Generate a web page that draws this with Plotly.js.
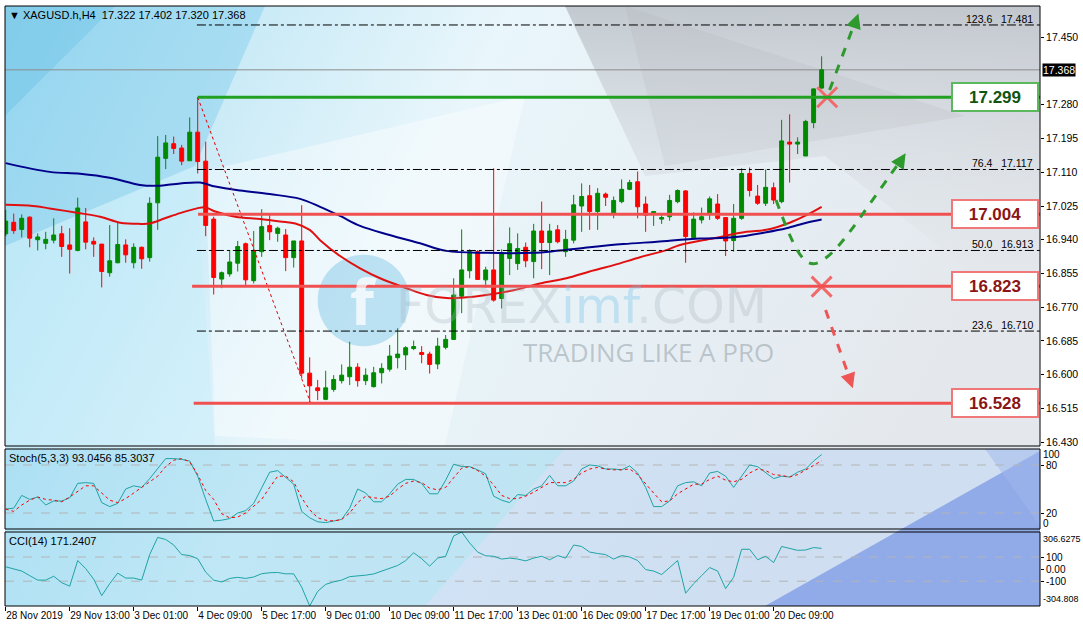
<!DOCTYPE html>
<html>
<head>
<meta charset="utf-8">
<script src="https://cdn.plot.ly/plotly-3.0.1.min.js"></script>
<style>
  html, body { margin: 0; padding: 0; background: #ffffff; }
  #chart { width: 1083px; height: 628px; }
</style>
</head>
<body>
<div id="chart"></div>
<script>
// ---------------- DATA ----------------
const symbolTitle = "\u25BC XAGUSD.h,H4  17.322 17.402 17.320 17.368";

const open = [16.955,16.984,16.966,16.997,16.940,16.931,16.939,16.955,16.927,16.913,
  16.985,16.936,16.929,16.857,16.882,16.927,16.882,16.921,16.895,17.033,
  17.145,17.182,17.171,17.139,17.211,17.138,16.992,16.841,16.854,16.881,
  16.930,16.837,16.910,16.976,16.956,16.952,16.895,16.937,16.604,16.567,
  16.538,16.563,16.585,16.595,16.619,16.585,16.570,16.605,16.614,16.643,
  16.650,16.666,16.656,16.652,16.627,16.669,16.689,16.798,16.862,16.910,
  16.839,16.864,16.792,16.893,16.880,16.921,16.885,16.962,16.933,16.965,
  16.910,16.939,17.025,17.051,17.011,17.055,17.005,17.036,17.067,17.086,
  17.030,17.007,16.992,16.998,17.036,17.063,16.945,16.990,17.005,17.030,
  16.996,16.938,16.994,17.107,17.050,17.032,17.071,17.036,17.186,17.181,
  17.151,17.235,17.322];
const high = [17.015,17.006,17.004,16.999,16.956,16.960,16.994,16.975,16.969,17.046,
  17.020,16.946,16.929,16.977,16.983,16.941,16.931,16.923,17.047,17.201,
  17.204,17.200,17.179,17.248,17.299,17.187,16.998,16.860,16.914,16.937,
  16.933,16.962,17.017,17.007,16.973,16.967,16.937,17.027,16.644,16.587,
  16.610,16.599,16.626,16.683,16.629,16.616,16.620,16.629,16.675,16.717,
  16.672,16.686,16.672,16.658,16.693,16.700,16.843,16.966,16.916,16.914,
  16.872,17.120,16.916,16.971,16.956,16.933,16.980,17.036,16.980,16.977,
  16.965,17.053,17.082,17.078,17.070,17.059,17.049,17.092,17.091,17.112,
  17.049,17.011,17.007,17.053,17.067,17.065,17.009,17.021,17.049,17.055,
  16.996,17.030,17.120,17.122,17.078,17.117,17.084,17.242,17.256,17.198,
  17.242,17.321,17.402];
const low = [16.949,16.955,16.946,16.921,16.913,16.916,16.931,16.897,16.855,16.911,
  16.916,16.897,16.820,16.847,16.881,16.882,16.868,16.867,16.885,16.965,
  17.118,17.156,17.128,17.139,17.107,16.949,16.802,16.818,16.847,16.860,
  16.826,16.830,16.897,16.939,16.935,16.861,16.870,16.591,16.528,16.536,
  16.536,16.557,16.578,16.574,16.570,16.574,16.568,16.578,16.608,16.616,
  16.612,16.662,16.629,16.603,16.614,16.664,16.688,16.755,16.843,16.839,
  16.820,16.784,16.767,16.851,16.864,16.871,16.843,16.866,16.851,16.931,
  16.897,16.931,16.960,16.965,16.965,17.025,16.994,17.032,17.065,16.994,
  16.960,16.975,16.980,16.988,17.032,16.882,16.945,16.981,16.990,16.990,
  16.899,16.910,16.990,17.049,17.028,17.025,17.030,17.032,17.084,17.156,
  17.151,17.221,17.320];
const close = [16.987,16.963,16.994,16.944,16.947,16.941,16.952,16.923,16.916,17.020,
  16.934,16.929,16.860,16.887,16.928,16.902,16.921,16.892,17.032,17.148,
  17.184,17.170,17.138,17.211,17.137,16.976,16.845,16.857,16.884,16.923,
  16.839,16.912,16.973,16.960,16.969,16.895,16.937,16.604,16.572,16.560,
  16.567,16.588,16.599,16.619,16.585,16.599,16.605,16.616,16.647,16.652,
  16.668,16.671,16.651,16.626,16.672,16.689,16.801,16.864,16.910,16.840,
  16.864,16.788,16.906,16.930,16.918,16.887,16.962,16.933,16.962,16.935,
  16.941,17.028,17.049,17.011,17.057,17.047,17.039,17.067,17.084,17.023,
  17.002,17.011,16.996,17.039,17.064,16.948,16.992,16.998,17.043,16.994,
  16.937,16.994,17.107,17.064,17.032,17.072,17.040,17.189,17.181,17.186,
  17.238,17.320,17.368];

// moving averages read at sample bars
const maBlueBars = [0,5.5,9.3,13,16.8,19,21.8,24.3,26.2,29.3,33,36.8,39.3,41.8,44.3,48,51.8,55.1,60.1,65.9,68.9,73,77.2,81.4,86.8,90.9,95.1,97.6,100.1,102];
const maBlueVals = [17.133,17.111,17.106,17.096,17.078,17.076,17.082,17.084,17.074,17.064,17.055,17.043,17.023,17.000,16.975,16.952,16.931,16.912,16.907,16.907,16.912,16.921,16.929,16.935,16.943,16.946,16.959,16.969,16.983,16.991];
const maRedBars = [0,3.4,5.5,8.9,11.8,14.3,16.8,18,19.9,21.8,23.9,24.9,26.2,28.7,31.8,34.3,36.2,38,39.3,41.8,44.3,46.8,50.1,52.6,55.1,57.6,60.1,63.5,66.8,70.1,73,76,79.3,82.6,84.3,88.5,92.6,95.1,98,100.1,102];
const maRedVals = [17.028,17.025,17.019,17.008,16.998,16.983,16.980,16.981,16.994,17.007,17.019,17.022,17.011,16.998,16.992,16.986,16.981,16.965,16.939,16.899,16.868,16.843,16.818,16.801,16.793,16.795,16.801,16.813,16.830,16.843,16.860,16.876,16.896,16.914,16.927,16.944,16.960,16.965,16.983,17.002,17.023];

// Stochastic (5,3,3)
const stochK = [25,26,42,37,40,30,35,35,39,57,58,57,33,28,32,50,54,52,63,76,
  88,88,87,85,66,37,10,11,13,20,23,32,51,71,73,64,56,22,14,9,
  8,10,12,26,50,45,34,34,44,56,62,62,57,44,44,61,81,78,78,74,
  69,41,36,33,43,42,50,54,67,54,54,60,75,80,79,75,75,74,79,70,
  52,28,28,35,54,58,59,54,70,72,66,52,66,80,78,70,63,66,65,71,
  75,85,93.0456];
const stochD = [25,22,30,36,40,37,36,34,40,47,54,54,45,36,33,38,45,52,58,66,
  78,86,88,84,68,48,37,19,14,15,20,28,37,52,66,66,59,39,24,14,
  11,10,12,20,33,41,39,38,41,50,57,60,58,51,49,52,64,76,78,73,
  66,55,42,38,38,41,46,52,58,58,58,62,70,75,77,75,74,74,75,68,
  56,45,34,35,44,50,56,56,62,66,61,59,62,70,75,73,68,67,65,68,
  74,79,85.3037];
// CCI(14)
const cci = [19,4,-16,-54,-91,-91,-59,-112,-141,71,4,-83,-219,-120,-33,-74,-74,-91,120,262,
  245,199,120,112,86,-25,-91,-106,-77,-68,-77,-65,-38,-30,-28,-39,-39,-149,-304.808,-184,
  -126,-105,-91,-62,-59,-50,-40,-15,4,30,70,135,86,25,91,106,274,306.6275,216,141,
  110,106,83,91,83,68,91,106,77,112,91,199,187,141,129,120,83,112,100,71,
  -4,-16,-45,13,71,-199,-120,-54,13,-16,-161,-68,164,164,77,106,54,187,172,155,
  158,178,171.2407];

// time axis labels (every 8 bars)
const timeTickBars = [0,8,16,24,32,40,48,56,64,72,80,88,96];
const timeTickText = ["28 Nov 2019","29 Nov 13:00","3 Dec 01:00","4 Dec 09:00","5 Dec 17:00","9 Dec 01:00","10 Dec 09:00","11 Dec 17:00","13 Dec 01:00","16 Dec 09:00","17 Dec 17:00","19 Dec 01:00","20 Dec 09:00"];

// price axis labels
const priceTicks = [16.430,16.515,16.600,16.685,16.770,16.855,16.940,17.025,17.110,17.195,17.280,17.450];
const currentPrice = 17.368;

// support / resistance levels
const levelPrices = [17.299, 17.004, 16.823, 16.528];
const levelStartBars = [24, 24.05, 23.3, 23.5];
const levelKinds = ["resistance","support","support","support"];

// Fibonacci levels
const fibPrices = [17.481, 17.117, 16.913, 16.710];
const fibNames = ["123.6", "76.4", "50.0", "23.6"];
const fibStartBar = 23.9;
const fibTrend = {bars: [24, 38.1], prices: [17.299, 16.53]};

// forecast drawings
const crossBars = [102.7, 102.0];
const crossPrices = [17.299, 16.822];

// ---------------- LAYOUT CONSTANTS ----------------
const W = 1083, H = 628;
const M = {l: 5, r: 43, t: 6, b: 22};
const plotH = H - M.t - M.b;
const xRange = [-0.09, 129.3];
const mainRange = [16.4205, 17.5288];
const domMain = [(606 - 446) / plotH, 1];
const domStoch = [(606 - 529) / plotH, (606 - 449) / plotH];
const domCci = [0, (606 - 532) / plotH];

const idx = close.map((_, i) => i);
const font = "Liberation Sans, Arial, sans-serif";

// ---------------- BACKGROUND ----------------
const bgSvg = `<svg xmlns="http://www.w3.org/2000/svg" width="1035" height="600" viewBox="0 0 1035 600" preserveAspectRatio="none">
<defs>
<linearGradient id="g" x1="0" y1="0" x2="1" y2="0.3">
<stop offset="0" stop-color="#a9dff3"/>
<stop offset="0.45" stop-color="#e9f6fb"/>
<stop offset="1" stop-color="#e4e8ed"/>
</linearGradient>
<linearGradient id="gr" x1="0" y1="0" x2="0" y2="1">
<stop offset="0" stop-color="#b9bec5"/>
<stop offset="1" stop-color="#e6eaee" stop-opacity="0"/>
</linearGradient>
</defs>
<rect width="1035" height="600" fill="url(#g)"/>
<polygon points="0,0 260,0 190,160 0,240" fill="#76c9ec" opacity="0.4"/>
<polygon points="0,0 110,0 0,110" fill="#5ab8e2" opacity="0.3"/>
<polygon points="200,165 520,90 440,440 210,430" fill="#ffffff" opacity="0.4"/>
<polygon points="0,240 190,160 210,440 0,440" fill="#c6eefa" opacity="0.45"/>
<polygon points="560,0 1035,0 1035,320 820,150 640,170" fill="url(#gr)" opacity="0.8"/>
<polygon points="620,0 960,110 660,160" fill="#a5aab1" opacity="0.15"/>
<polygon points="0,443 560,443 420,600 0,600" fill="#8dd4ef" opacity="0.45"/>
<polygon points="560,443 1035,443 1035,600 420,600" fill="#b9d3f3" opacity="0.5"/>
<polygon points="760,600 1035,445 1035,600" fill="#7c98e6" opacity="0.75"/>
<polygon points="980,443 1035,443 1035,520" fill="#9fb8ee" opacity="0.5"/>
</svg>`;
const bgUri = "data:image/svg+xml;charset=utf-8," + encodeURIComponent(bgSvg);

// ---------------- TRACES ----------------
const traces = [];
traces.push({
  type: "candlestick", x: idx, open: open, high: high, low: low, close: close,
  xaxis: "x", yaxis: "y",
  increasing: {line: {color: "#008a00", width: 1}, fillcolor: "#008a00"},
  decreasing: {line: {color: "#ff0000", width: 1}, fillcolor: "#ff0000"},
  whiskerwidth: 0, hoverinfo: "none", showlegend: false
});
traces.push({type: "scatter", mode: "lines", x: maRedBars, y: maRedVals, xaxis: "x", yaxis: "y",
  line: {color: "#e01010", width: 2, shape: "spline"}, hoverinfo: "skip", showlegend: false});
traces.push({type: "scatter", mode: "lines", x: maBlueBars, y: maBlueVals, xaxis: "x", yaxis: "y",
  line: {color: "#00008b", width: 2, shape: "spline"}, hoverinfo: "skip", showlegend: false});
traces.push({type: "scatter", mode: "lines", x: idx, y: stochK, xaxis: "x", yaxis: "y2",
  line: {color: "#1fa3a3", width: 1}, hoverinfo: "skip", showlegend: false});
traces.push({type: "scatter", mode: "lines", x: idx, y: stochD, xaxis: "x", yaxis: "y2",
  line: {color: "#ff0000", width: 1, dash: "dot"}, hoverinfo: "skip", showlegend: false});
traces.push({type: "scatter", mode: "lines", x: idx, y: cci, xaxis: "x", yaxis: "y3",
  line: {color: "#1fa3a3", width: 1}, hoverinfo: "skip", showlegend: false});
traces.push({type: "scatter", mode: "markers", x: crossBars, y: crossPrices, xaxis: "x", yaxis: "y",
  marker: {symbol: "x-thin", size: 20, line: {width: 3, color: "#f06a6a"}}, hoverinfo: "skip", showlegend: false});

// ---------------- SHAPES ----------------
const shapes = [];
// watermark logo circle
shapes.push({type: "circle", xref: "x", yref: "y", x0: 39, x1: 50.5, y0: 16.672, y1: 16.902,
  fillcolor: "rgba(120,196,230,0.45)", line: {width: 0}, layer: "below"});
// current price line
shapes.push({type: "line", xref: "x", yref: "y", x0: xRange[0], x1: xRange[1], y0: currentPrice, y1: currentPrice,
  line: {color: "#8c8c8c", width: 1}, layer: "below"});
// fibonacci lines
fibPrices.forEach(p => shapes.push({type: "line", xref: "x", yref: "y", x0: fibStartBar, x1: xRange[1], y0: p, y1: p,
  line: {color: "#000000", width: 1, dash: "dashdot"}}));
// fib trend line
shapes.push({type: "line", xref: "x", yref: "y", x0: fibTrend.bars[0], x1: fibTrend.bars[1],
  y0: fibTrend.prices[0], y1: fibTrend.prices[1], line: {color: "#e00000", width: 1, dash: "dot"}});
// levels
levelPrices.forEach((p, i) => shapes.push({type: "line", xref: "x", yref: "y", x0: levelStartBars[i], x1: xRange[1],
  y0: p, y1: p, line: {color: levelKinds[i] === "resistance" ? "#21a021" : "#f05050", width: 3}}));
// stochastic / cci levels
[20, 80].forEach(v => shapes.push({type: "line", xref: "paper", yref: "y2", x0: 0, x1: 1, y0: v, y1: v,
  line: {color: "#b4b4b4", width: 1, dash: "dash"}, layer: "below"}));
[100, -100].forEach(v => shapes.push({type: "line", xref: "paper", yref: "y3", x0: 0, x1: 1, y0: v, y1: v,
  line: {color: "#b4b4b4", width: 1, dash: "dash"}, layer: "below"}));
// forecast arrows (dashed)
const green = "#2e9a2e";
shapes.push({type: "line", xref: "x", yref: "y", x0: 103.0, y0: 17.317, x1: 106.2, y1: 17.49,
  line: {color: green, width: 3, dash: "dash"}});
shapes.push({type: "path", xref: "x", yref: "y",
  path: "M 96.3,17.04 C 98.5,16.92 99.8,16.86 101.8,16.885 C 104.2,16.91 106.5,16.99 111.9,17.14",
  line: {color: green, width: 3, dash: "dash"}});
shapes.push({type: "line", xref: "x", yref: "y", x0: 102.5, y0: 16.763, x1: 105.6, y1: 16.585,
  line: {color: "#ee5555", width: 3, dash: "dash"}});
// pane frames
["y domain", "y2 domain", "y3 domain"].forEach(r => shapes.push({type: "rect", xref: "paper", yref: r,
  x0: 0, x1: 1, y0: 0, y1: 1, line: {color: "#000000", width: 1}}));

// ---------------- ANNOTATIONS ----------------
const ann = [];
ann.push({xref: "paper", yref: "paper", x: 0.002, y: 1, xanchor: "left", yanchor: "top", yshift: -1, showarrow: false,
  text: symbolTitle, font: {family: font, size: 11, color: "#000"}});
ann.push({xref: "paper", yref: "y2 domain", x: 0.002, y: 1, xanchor: "left", yanchor: "top", yshift: -1, showarrow: false,
  text: "Stoch(5,3,3) 93.0456 85.3037", font: {family: font, size: 11, color: "#000"}});
ann.push({xref: "paper", yref: "y3 domain", x: 0.002, y: 1, xanchor: "left", yanchor: "top", yshift: -1, showarrow: false,
  text: "CCI(14) 171.2407", font: {family: font, size: 11, color: "#000"}});
// fib labels
fibPrices.forEach((p, i) => ann.push({xref: "paper", yref: "y", x: 0.995, y: p, xanchor: "right", yanchor: "bottom",
  showarrow: false, yshift: -2, text: fibNames[i] + "\u00A0\u00A0\u00A0" + p.toFixed(3),
  font: {family: font, size: 10.5, color: "#000"}}));
// level boxes
levelPrices.forEach((p, i) => {
  const res = levelKinds[i] === "resistance";
  ann.push({xref: "paper", yref: "y", x: 0.9565, y: p, xanchor: "center", yanchor: "middle", showarrow: false,
    text: "<b>" + p.toFixed(3) + "</b>", width: 82, height: 24, bgcolor: "#ffffff",
    bordercolor: res ? "#5cb85c" : "#f07878", borderwidth: 2, borderpad: 1,
    font: {family: "Liberation Sans, Arial, sans-serif", size: 17, color: res ? "#115511" : "#8b1515"}});
});
// current price label
ann.push({xref: "paper", yref: "y", x: 1, y: currentPrice, xanchor: "left", yanchor: "middle", xshift: 2, showarrow: false,
  text: currentPrice.toFixed(3), bgcolor: "#000000", font: {family: font, size: 10.5, color: "#ffffff"}, borderpad: 0});
// indicator extreme labels
const sideLab = (yref, y, text, anchor, ys, fs) => ann.push({xref: "paper", yref: yref, x: 1, y: y, xanchor: "left",
  yanchor: anchor, xshift: 1, yshift: ys, showarrow: false, text: text, font: {family: font, size: fs, color: "#000"}});
sideLab("y2 domain", 1, "100", "top", 2, 10);
sideLab("y2 domain", 0, "0", "bottom", -2, 10);
sideLab("y3 domain", 1, "306.6275", "top", 0, 9);
sideLab("y3 domain", 0, "-304.808", "bottom", 0, 9);
// arrow heads
const head = (x, y, ax, ay, c) => ann.push({xref: "x", yref: "y", axref: "x", ayref: "y", x: x, y: y, ax: ax, ay: ay,
  showarrow: true, arrowhead: 2, arrowsize: 1, arrowwidth: 3, arrowcolor: c, text: ""});
head(106.6, 17.51, 106.0, 17.475, green);
head(112.5, 17.158, 111.6, 17.13, green);
head(105.9, 16.566, 105.4, 16.595, "#ee5555");
// watermark
ann.push({xref: "x", yref: "y", x: 44.75, y: 16.787, showarrow: false, text: "<b>f</b>",
  font: {family: "Open Sans, sans-serif", size: 62, color: "rgba(255,255,255,0.75)"}});
ann.push({xref: "x", yref: "y", x: 72.0, y: 16.772, xanchor: "center", yanchor: "middle", showarrow: false,
  text: "<span style='color:rgba(165,180,190,0.55)'>FOREX</span><span style='color:rgba(110,190,230,0.6)'>imf</span><span style='color:rgba(165,180,190,0.55)'>.COM</span>",
  font: {family: "DejaVu Sans, sans-serif", size: 49, color: "rgba(165,180,190,0.55)"}});
ann.push({xref: "x", yref: "y", x: 80.3, y: 16.658, xanchor: "center", yanchor: "middle", showarrow: false,
  text: "TRADING LIKE A PRO", font: {family: "Open Sans, sans-serif", size: 26, color: "rgba(150,160,168,0.55)"}});

// ---------------- LAYOUT ----------------
const layout = {
  width: W, height: H, margin: M,
  paper_bgcolor: "#ffffff", plot_bgcolor: "rgba(0,0,0,0)",
  showlegend: false, dragmode: false,
  images: [{source: bgUri, xref: "paper", yref: "paper", x: 0, y: 1, sizex: 1, sizey: 1,
    xanchor: "left", yanchor: "top", sizing: "stretch", layer: "below"}],
  xaxis: {range: xRange, anchor: "y3", showgrid: false, zeroline: false, rangeslider: {visible: false},
    tickmode: "array", tickvals: timeTickBars, ticktext: timeTickText, ticks: "outside", ticklen: 4,
    tickangle: 0, tickcolor: "#000", ticklabelposition: "outside right",
    tickfont: {family: font, size: 10, color: "#000"}, showline: false},
  yaxis: {domain: domMain, range: mainRange, side: "right", showgrid: false, zeroline: false,
    tickmode: "array", tickvals: priceTicks, ticktext: priceTicks.map(v => v.toFixed(3)),
    ticks: "outside", ticklen: 3, tickcolor: "#000", tickfont: {family: font, size: 10.5, color: "#000"}},
  yaxis2: {domain: domStoch, range: [0, 100], side: "right", showgrid: false, zeroline: false,
    tickmode: "array", tickvals: [20, 80], ticktext: ["20", "80"], ticks: "outside", ticklen: 3,
    tickcolor: "#000", tickfont: {family: font, size: 10, color: "#000"}},
  yaxis3: {domain: domCci, range: [-304.808, 306.6275], side: "right", showgrid: false, zeroline: false,
    tickmode: "array", tickvals: [-100, 0, 100], ticktext: ["-100", "0.00", "100"], ticks: "outside", ticklen: 3,
    tickcolor: "#000", tickfont: {family: font, size: 10, color: "#000"}},
  shapes: shapes, annotations: ann
};

Plotly.newPlot("chart", traces, layout, {displayModeBar: false, staticPlot: true});
</script>
</body>
</html>
